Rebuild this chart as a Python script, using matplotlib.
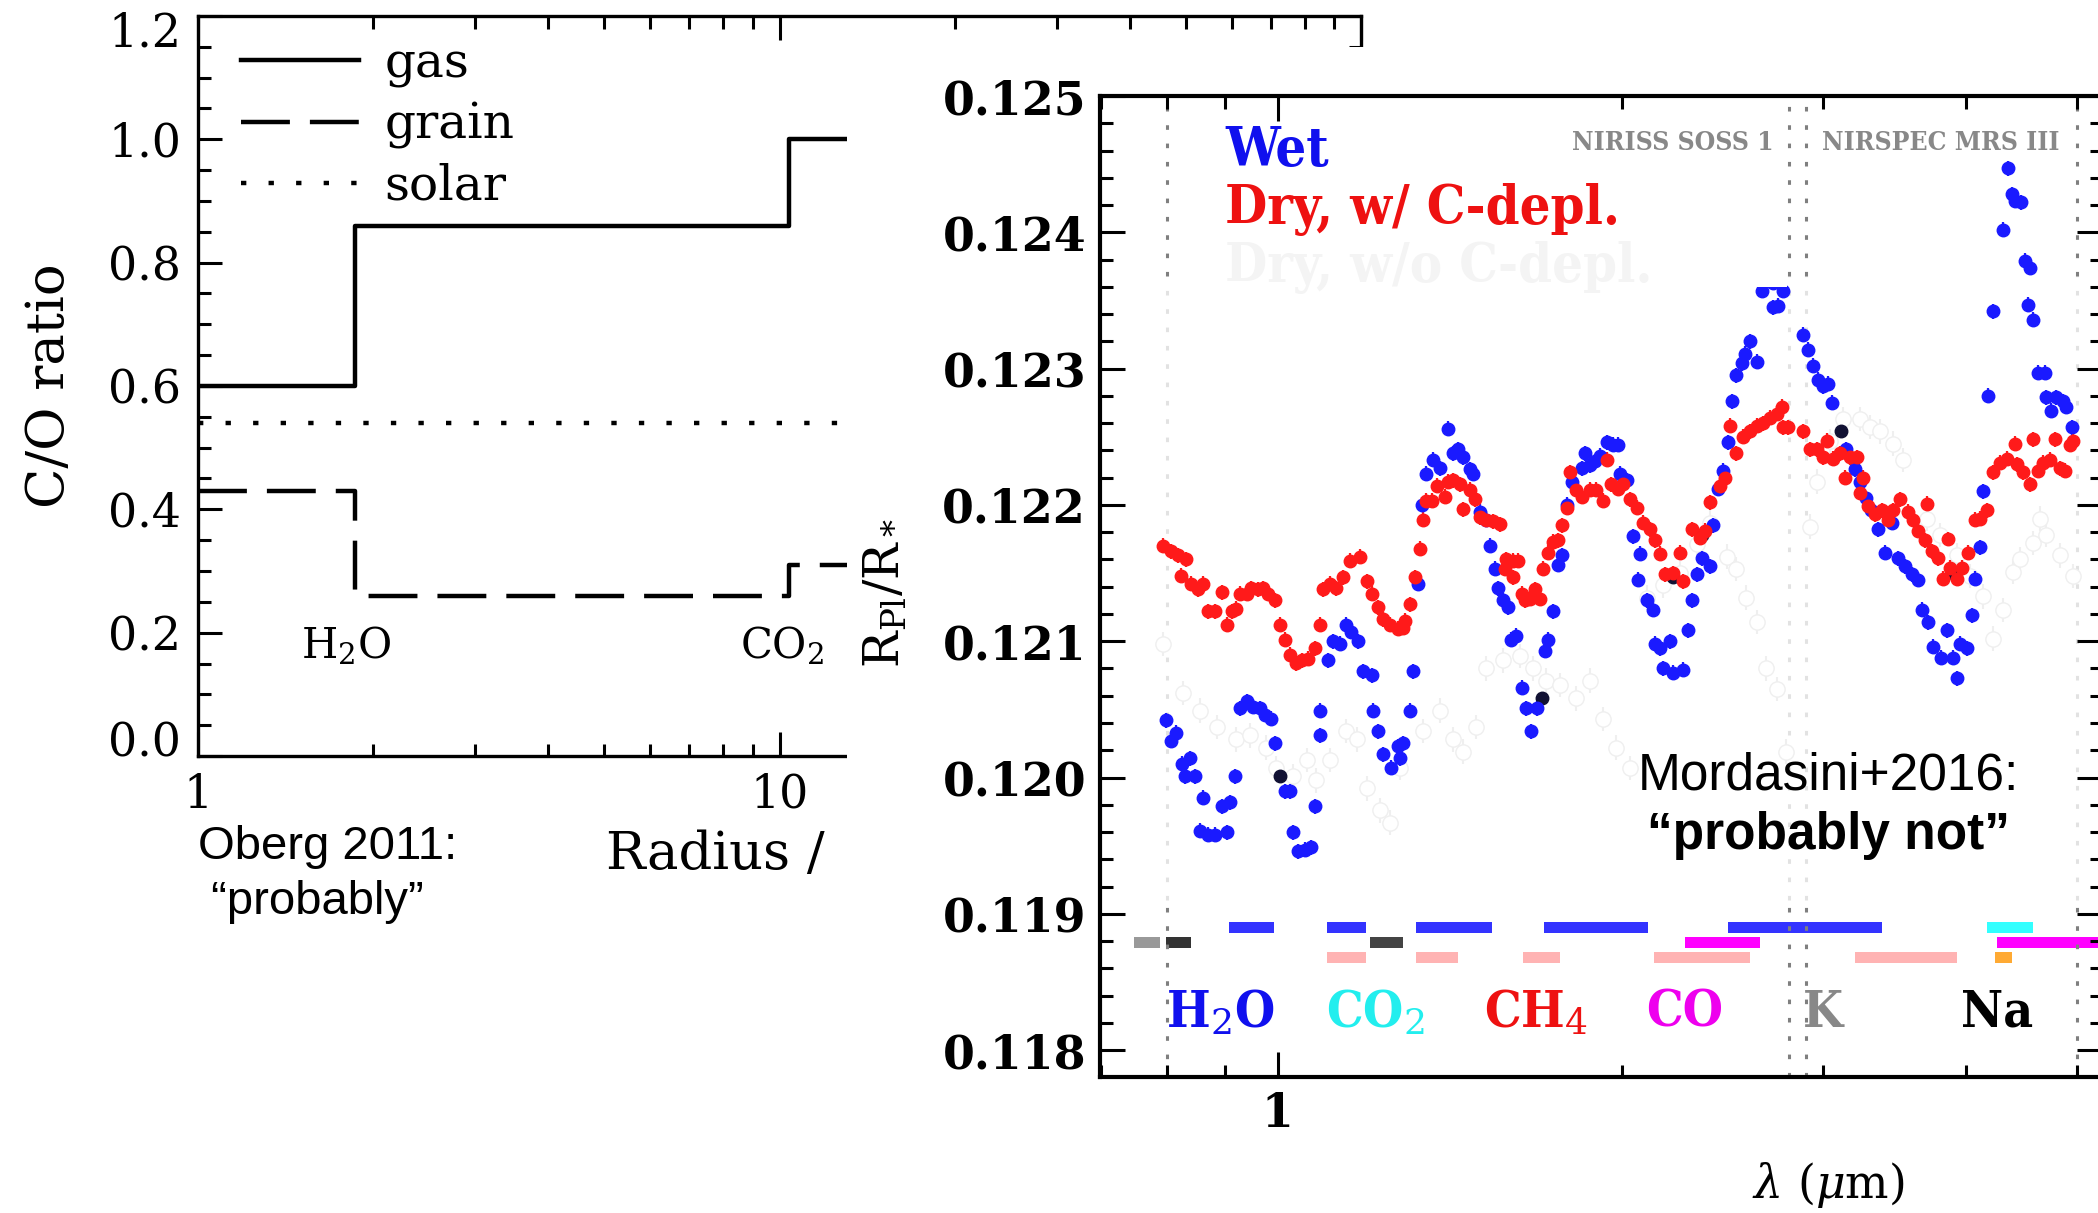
import numpy as np
import matplotlib
matplotlib.use('Agg')
import matplotlib.pyplot as plt
from matplotlib.ticker import (FixedLocator, FixedFormatter, LogLocator, NullFormatter,
                               MultipleLocator, FormatStrFormatter)
from matplotlib.transforms import ScaledTranslation

plt.rcParams['font.family'] = 'DejaVu Serif'
plt.rcParams['mathtext.fontset'] = 'dejavuserif'

# ---------------- left panel: Oberg 2011 C/O ratio ----------------
radius_edges = [1, 1.86, 10.37, 100]
co_gas = [0.60, 0.86, 1.00]
co_grain = [0.43, 0.26, 0.31]
co_solar = 0.54
snow_labels = ['H$_2$O', 'CO$_2$']
snow_x = [1.80, 10.1]
snow_y = 0.178

# ---------------- right panel: transmission spectra (Mordasini+2016) ----------------
lam_wet = [0.799, 0.807, 0.815, 0.824, 0.829, 0.838, 0.846, 0.855, 0.860, 0.869, 0.881, 0.893,
           0.902, 0.908, 0.917, 0.927, 0.939, 0.951, 0.964, 0.974, 0.987, 0.994, 1.014, 1.024,
           1.031, 1.042, 1.056, 1.070, 1.077, 1.088, 1.088, 1.107, 1.118, 1.133, 1.148, 1.160,
           1.176, 1.188, 1.208, 1.212, 1.224, 1.236, 1.257, 1.274, 1.279, 1.287, 1.305, 1.313,
           1.327, 1.336, 1.349, 1.367, 1.386, 1.409, 1.423, 1.438, 1.453, 1.472, 1.482, 1.502,
           1.522, 1.533, 1.548, 1.559, 1.575, 1.590, 1.601, 1.617, 1.634, 1.650, 1.667, 1.684,
           1.712, 1.724, 1.741, 1.759, 1.771, 1.789, 1.807, 1.844, 1.856, 1.875, 1.894, 1.913,
           1.939, 1.965, 1.985, 1.992, 2.019, 2.046, 2.067, 2.074, 2.102, 2.130, 2.137, 2.159,
           2.174, 2.203, 2.218, 2.263, 2.286, 2.301, 2.325, 2.348, 2.388, 2.404, 2.428, 2.453,
           2.477, 2.494, 2.519, 2.545, 2.562, 2.588, 2.623, 2.650, 2.712, 2.712, 2.740, 2.768,
           2.882, 2.911, 2.940, 2.970, 3.000, 3.030, 3.051, 3.144, 3.197, 3.230, 3.273, 3.306,
           3.351, 3.397, 3.443, 3.489, 3.537, 3.584, 3.633, 3.657, 3.707, 3.744, 3.807, 3.846,
           3.898, 3.925, 3.951, 4.004, 4.045, 4.072, 4.114, 4.141, 4.183, 4.225, 4.311, 4.355,
           4.384, 4.413, 4.472, 4.502, 4.533, 4.548, 4.579, 4.625, 4.688, 4.703, 4.751, 4.799,
           4.864, 4.897, 4.947]
rp_wet = [0.12042, 0.12027, 0.12033, 0.12010, 0.12001, 0.12014, 0.12001, 0.11961, 0.11985, 0.11958,
          0.11958, 0.11979, 0.11960, 0.11982, 0.12001, 0.12051, 0.12056, 0.12052, 0.12051, 0.12046,
          0.12043, 0.12025, 0.11990, 0.11990, 0.11960, 0.11946, 0.11947, 0.11949, 0.11979, 0.12031,
          0.12049, 0.12086, 0.12100, 0.12098, 0.12112, 0.12107, 0.12100, 0.12078, 0.12075, 0.12049,
          0.12034, 0.12017, 0.12007, 0.12023, 0.12014, 0.12025, 0.12049, 0.12078, 0.12142, 0.12200,
          0.12223, 0.12233, 0.12227, 0.12256, 0.12238, 0.12241, 0.12235, 0.12226, 0.12223, 0.12195,
          0.12189, 0.12170, 0.12153, 0.12139, 0.12130, 0.12125, 0.12101, 0.12104, 0.12066, 0.12051,
          0.12034, 0.12051, 0.12093, 0.12101, 0.12122, 0.12156, 0.12163, 0.12200, 0.12217, 0.12227,
          0.12238, 0.12229, 0.12232, 0.12236, 0.12246, 0.12244, 0.12244, 0.12223, 0.12218, 0.12177,
          0.12145, 0.12164, 0.12130, 0.12123, 0.12098, 0.12095, 0.12080, 0.12100, 0.12077, 0.12079,
          0.12108, 0.12130, 0.12149, 0.12161, 0.12155, 0.12185, 0.12212, 0.12225, 0.12246, 0.12276,
          0.12295, 0.12304, 0.12311, 0.12320, 0.12305, 0.12357, 0.12345, 0.12363, 0.12346, 0.12357,
          0.12325, 0.12314, 0.12302, 0.12292, 0.12287, 0.12289, 0.12275, 0.12241, 0.12226, 0.12217,
          0.12205, 0.12196, 0.12182, 0.12165, 0.12187, 0.12161, 0.12155, 0.12149, 0.12145, 0.12123,
          0.12114, 0.12096, 0.12088, 0.12108, 0.12088, 0.12073, 0.12098, 0.12095, 0.12119, 0.12146,
          0.12169, 0.12210, 0.12280, 0.12342, 0.12402, 0.12447, 0.12428, 0.12423, 0.12422, 0.12379,
          0.12347, 0.12374, 0.12336, 0.12297, 0.12297, 0.12279, 0.12269, 0.12279, 0.12276, 0.12272,
          0.12257]

lam_dry = [0.794, 0.807, 0.818, 0.823, 0.832, 0.840, 0.852, 0.860, 0.869, 0.881, 0.893, 0.902,
           0.911, 0.920, 0.927, 0.939, 0.948, 0.961, 0.971, 0.981, 0.994, 1.004, 1.014, 1.024,
           1.038, 1.049, 1.063, 1.077, 1.088, 1.096, 1.110, 1.125, 1.141, 1.156, 1.180, 1.196,
           1.208, 1.224, 1.236, 1.253, 1.274, 1.287, 1.291, 1.305, 1.318, 1.331, 1.340, 1.349,
           1.363, 1.377, 1.400, 1.409, 1.423, 1.443, 1.453, 1.472, 1.487, 1.502, 1.522, 1.543,
           1.564, 1.580, 1.585, 1.607, 1.607, 1.623, 1.634, 1.645, 1.661, 1.678, 1.695, 1.707,
           1.724, 1.741, 1.759, 1.771, 1.789, 1.801, 1.825, 1.844, 1.875, 1.900, 1.926, 1.939,
           1.958, 1.985, 2.005, 2.032, 2.060, 2.088, 2.116, 2.137, 2.159, 2.181, 2.218, 2.248,
           2.263, 2.301, 2.340, 2.364, 2.388, 2.436, 2.461, 2.486, 2.519, 2.553, 2.588, 2.623,
           2.658, 2.694, 2.731, 2.759, 2.768, 2.796, 2.882, 2.921, 2.960, 3.000, 3.020, 3.061,
           3.102, 3.133, 3.165, 3.208, 3.230, 3.251, 3.284, 3.329, 3.374, 3.420, 3.454, 3.501,
           3.560, 3.596, 3.633, 3.682, 3.694, 3.732, 3.782, 3.820, 3.859, 3.872, 3.925, 3.964,
           4.018, 4.072, 4.114, 4.169, 4.225, 4.282, 4.340, 4.413, 4.428, 4.487, 4.548, 4.579,
           4.625, 4.672, 4.735, 4.783, 4.831, 4.880, 4.930, 4.963]
rp_dry = [0.12170, 0.12166, 0.12163, 0.12148, 0.12160, 0.12142, 0.12138, 0.12142, 0.12122, 0.12122,
          0.12136, 0.12112, 0.12122, 0.12124, 0.12135, 0.12135, 0.12139, 0.12138, 0.12139, 0.12135,
          0.12130, 0.12112, 0.12101, 0.12090, 0.12084, 0.12086, 0.12087, 0.12095, 0.12112, 0.12138,
          0.12142, 0.12139, 0.12147, 0.12159, 0.12162, 0.12144, 0.12135, 0.12125, 0.12116, 0.12112,
          0.12109, 0.12110, 0.12115, 0.12127, 0.12147, 0.12168, 0.12189, 0.12203, 0.12203, 0.12214,
          0.12206, 0.12217, 0.12218, 0.12215, 0.12197, 0.12211, 0.12204, 0.12191, 0.12189, 0.12188,
          0.12186, 0.12153, 0.12160, 0.12159, 0.12147, 0.12159, 0.12135, 0.12130, 0.12131, 0.12138,
          0.12131, 0.12153, 0.12165, 0.12173, 0.12174, 0.12185, 0.12198, 0.12224, 0.12211, 0.12206,
          0.12211, 0.12211, 0.12203, 0.12233, 0.12215, 0.12212, 0.12215, 0.12204, 0.12198, 0.12187,
          0.12182, 0.12174, 0.12164, 0.12149, 0.12150, 0.12165, 0.12144, 0.12182, 0.12176, 0.12181,
          0.12202, 0.12214, 0.12220, 0.12258, 0.12238, 0.12250, 0.12254, 0.12258, 0.12260, 0.12264,
          0.12267, 0.12272, 0.12257, 0.12257, 0.12254, 0.12241, 0.12241, 0.12235, 0.12247, 0.12234,
          0.12238, 0.12220, 0.12235, 0.12235, 0.12209, 0.12220, 0.12199, 0.12193, 0.12196, 0.12189,
          0.12196, 0.12204, 0.12195, 0.12189, 0.12181, 0.12174, 0.12201, 0.12166, 0.12161, 0.12146,
          0.12175, 0.12154, 0.12146, 0.12154, 0.12165, 0.12189, 0.12190, 0.12196, 0.12224, 0.12231,
          0.12234, 0.12245, 0.12230, 0.12224, 0.12215, 0.12248, 0.12225, 0.12231, 0.12233, 0.12248,
          0.12227, 0.12225, 0.12244, 0.12247]

# points where the hidden dry/no-depletion curve overlaps (dark blobs)
lam_dark = [1.004, 1.701, 2.218, 2.348, 3.112, 3.900]
rp_dark = [0.12001, 0.12058, 0.12147, 0.12178, 0.12254, 0.12150]

# "Dry, w/o C-depl." model, faded out in the figure
lam_ghost = [0.794, 0.826, 0.855, 0.884, 0.920, 0.945, 0.977, 0.997, 1.031, 1.060, 1.081, 1.110,
             1.148, 1.172, 1.196, 1.228, 1.253, 1.279, 1.340, 1.386, 1.423, 1.453, 1.492, 1.522,
             1.575, 1.628, 1.673, 1.718, 1.765, 1.825, 1.875, 1.926, 1.978, 2.032, 2.102, 2.174,
             2.248, 2.325, 2.388, 2.469, 2.519, 2.570, 2.623, 2.676, 2.731, 2.786, 2.921, 2.960,
             3.041, 3.123, 3.230, 3.295, 3.363, 3.454, 3.525, 3.694, 3.795, 3.925, 4.031, 4.141,
             4.225, 4.311, 4.398, 4.458, 4.579, 4.641, 4.703, 4.831, 4.963]
rp_ghost = [0.12098, 0.12062, 0.12049, 0.12037, 0.12028, 0.12031, 0.12022, 0.12007, 0.12001, 0.12013,
            0.11998, 0.12013, 0.12034, 0.12028, 0.11992, 0.11976, 0.11967, 0.12007, 0.12034, 0.12049,
            0.12028, 0.12019, 0.12037, 0.12080, 0.12086, 0.12089, 0.12080, 0.12071, 0.12068, 0.12058,
            0.12071, 0.12043, 0.12022, 0.12007, 0.12132, 0.12141, 0.12150, 0.12171, 0.12187, 0.12162,
            0.12153, 0.12132, 0.12114, 0.12080, 0.12065, 0.12019, 0.12184, 0.12217, 0.12247, 0.12263,
            0.12263, 0.12257, 0.12254, 0.12245, 0.12233, 0.12190, 0.12178, 0.12163, 0.12148, 0.12133,
            0.12102, 0.12123, 0.12151, 0.12160, 0.12172, 0.12190, 0.12178, 0.12163, 0.12148]

# instrument edges (dotted lines)
inst_edges = [0.8, 2.8, 2.9, 5.0]
inst_names = ['NIRISS SOSS 1', 'NIRSPEC MRS III']

# molecular band indicators: start, end, row level, colour
band_start = [0.906, 1.104, 1.322, 1.708, 2.474, 4.169,
              0.748, 0.798, 1.205, 2.273, 4.261,
              1.104, 1.322, 1.639, 2.132, 3.197, 4.240]
band_end = [0.992, 1.194, 1.539, 2.110, 3.375, 4.574,
            0.789, 0.839, 1.288, 2.641, 5.30,
            1.194, 1.438, 1.764, 2.588, 3.929, 4.387]
band_level = [0.11890] * 6 + [0.11879] * 5 + [0.11868] * 6
band_color = ['#3333ff'] * 5 + ['#33ffff'] + ['#999999', '#333333', '#444444', '#ff00ff', '#ff00ff'] \
    + ['#ffb3b3'] * 5 + ['#ffaa33']
mol_labels = ['H$_2$O', 'CO$_2$', 'CH$_4$', 'CO', 'K', 'Na']
mol_colors = ['#1010ee', '#22eeee', '#ee1111', '#ee00ee', '#888888', '#000000']
mol_xpos = [0.120, 0.275, 0.435, 0.583, 0.721, 0.895]

W, H = 2098, 1213


def box(x0, y0, x1, y1):
    return [x0 / W, 1 - y1 / H, (x1 - x0) / W, (y1 - y0) / H]


fig = plt.figure(figsize=(W / 100, H / 100), dpi=100)

# ---------- left axes ----------
ax1 = fig.add_axes(box(198, 16, 1361, 756))
ax1.set_xscale('log')
gas_line, = ax1.step(radius_edges, co_gas + co_gas[-1:], where='post', color='k', lw=3.2, label='gas')
grain_line, = ax1.step(radius_edges, co_grain + co_grain[-1:], where='post', color='k', lw=3.2,
                       ls=(0, (11, 4.5)), label='grain')
solar_line = ax1.axhline(co_solar, color='k', lw=3.2, ls=(0, (1.2, 5)), label='solar')
for lab, xx in zip(snow_labels, snow_x):
    ax1.text(xx, snow_y, lab, ha='center', va='center', fontsize=30)
ax1.set_xlim(1, 100)
ax1.set_ylim(0, 1.2)
ax1.xaxis.set_major_locator(FixedLocator([1, 10, 100]))
ax1.xaxis.set_major_formatter(FixedFormatter(['1', '10', '']))
ax1.xaxis.set_minor_locator(LogLocator(base=10, subs=np.arange(2, 10), numticks=20))
ax1.xaxis.set_minor_formatter(NullFormatter())
ax1.yaxis.set_major_locator(MultipleLocator(0.2))
ax1.yaxis.set_minor_locator(MultipleLocator(0.05))
ax1.yaxis.set_major_formatter(FormatStrFormatter('%.1f'))
ax1.tick_params(which='both', direction='in', top=True, right=True, labelsize=33, width=2.2, pad=12)
ax1.tick_params(which='major', length=17)
ax1.tick_params(which='minor', length=9)
for s in ax1.spines.values():
    s.set_linewidth(2.4)
# end labels sit a little inside the axis range, as in the original
for lbl in ax1.get_yticklabels():
    if lbl.get_text() == '1.2':
        lbl.set_transform(lbl.get_transform() + ScaledTranslation(0, -0.13, fig.dpi_scale_trans))
    elif lbl.get_text() == '0.0':
        lbl.set_transform(lbl.get_transform() + ScaledTranslation(0, 0.17, fig.dpi_scale_trans))
ax1.set_ylabel('C/O ratio', fontsize=38)
ax1.yaxis.set_label_coords(-0.106, 0.5)
ax1.set_xlabel('Radius /', fontsize=38)
ax1.xaxis.set_label_coords(0.445, -0.098)
ax1.legend(handles=[gas_line, grain_line, solar_line], loc='upper left', bbox_to_anchor=(0.037, 0.967),
           frameon=False, fontsize=35, handlelength=2.42, handletextpad=0.53, labelspacing=0.28,
           borderpad=0, borderaxespad=0)

fig.text(198 / W, 1 - 847 / H, 'Oberg 2011:', family='Liberation Sans', fontsize=34, va='center')
fig.text(198 / W, 1 - 902 / H, ' \u201cprobably\u201d', family='Liberation Sans', fontsize=34, va='center')

# ---------- white backdrop of the pasted right panel ----------
bg = fig.add_axes(box(847, 47, W, H), zorder=2)
bg.set_facecolor('white')
bg.set_xticks([])
bg.set_yticks([])
for s in bg.spines.values():
    s.set_visible(False)

# ---------- right axes ----------
ax2 = fig.add_axes(box(1100, 96, 2102, 1077), zorder=3)
ax2.set_axisbelow(False)
ax2.set_xscale('log')
ax2.set_xlim(0.699, 5.26)
ax2.set_ylim(0.117803, 0.125)

band_top = 0.12368
band_bot = 0.1191
ax2.vlines(inst_edges, band_bot, band_top, color='#e2e2e2', lw=2.2, ls=(0, (1.5, 4.5)), zorder=1.1)
ax2.vlines(inst_edges, band_top, 0.125, color='#7f7f7f', lw=2.2, ls=(0, (1.5, 4.5)), zorder=2.45)
ax2.vlines(inst_edges, 0.117803, band_bot, color='#7f7f7f', lw=2.2, ls=(0, (1.5, 4.5)), zorder=2.45)

ax2.errorbar(lam_ghost, rp_ghost, yerr=9e-5, fmt='o', ms=11, mfc='white', mec='#efefef',
             ecolor='#efefef', elinewidth=1.5, capsize=0, zorder=1.2)
ax2.errorbar(lam_wet, rp_wet, yerr=5.5e-5, fmt='o', ms=9, color='#1a1aff', mec='#1a1aff',
             elinewidth=1.6, capsize=0, zorder=2.2)
ax2.errorbar(lam_dry, rp_dry, yerr=5.5e-5, fmt='o', ms=9, color='#ff1a1a', mec='#ff1a1a',
             elinewidth=1.6, capsize=0, zorder=2.25)
ax2.plot(lam_dark, rp_dark, 'o', ms=9, color='#111133', zorder=2.3)
ax2.fill_between([0.699, 2.79], 0.12360, 0.125, color='white', lw=0, zorder=2.4)

ax2.barh(band_level, np.array(band_end) - np.array(band_start), left=band_start, height=0.000085,
         color=band_color, zorder=2.2)

cond = dict(family='DejaVu Serif', weight='bold', stretch='condensed')
for lab, c, xx in zip(mol_labels, mol_colors, mol_xpos):
    ax2.text(xx, 0.065, lab, color=c, fontsize=37, ha='center', va='center', transform=ax2.transAxes,
             zorder=6, **cond)

ax2.text(0.125, 0.944, 'Wet', color='#1010ee', fontsize=39, va='center', transform=ax2.transAxes,
         zorder=6, **cond)
ax2.text(0.125, 0.884, 'Dry, w/ C-depl.', color='#ee1111', fontsize=39, va='center', transform=ax2.transAxes,
         zorder=6, **cond)
ax2.text(0.125, 0.825, 'Dry, w/o C-depl.', color='#f4f4f4', fontsize=39, va='center', transform=ax2.transAxes,
         zorder=6, **cond)
ax2.text(0.672, 0.953, inst_names[0], color='#888888', fontsize=19, ha='right', va='center',
         transform=ax2.transAxes, zorder=6, **cond)
ax2.text(0.721, 0.953, inst_names[1], color='#888888', fontsize=19, ha='left', va='center',
         transform=ax2.transAxes, zorder=6, **cond)

ax2.text(0.727, 0.307, 'Mordasini+2016:', family='Liberation Sans', fontsize=37, ha='center', va='center',
         transform=ax2.transAxes, zorder=6)
ax2.text(0.727, 0.246, '\u201cprobably not\u201d', family='Liberation Sans', fontsize=37, fontweight='bold',
         ha='center', va='center', transform=ax2.transAxes, zorder=6)

ax2.xaxis.set_major_locator(FixedLocator([1]))
ax2.xaxis.set_major_formatter(FixedFormatter(['1']))
ax2.xaxis.set_minor_locator(LogLocator(base=10, subs=np.arange(2, 10), numticks=20))
ax2.xaxis.set_minor_formatter(NullFormatter())
ax2.yaxis.set_major_locator(MultipleLocator(0.001))
ax2.yaxis.set_minor_locator(MultipleLocator(0.0002))
ax2.yaxis.set_major_formatter(FormatStrFormatter('%.3f'))
ax2.tick_params(which='both', direction='in', top=True, right=True, width=2.2, labelsize=33, pad=10)
ax2.tick_params(which='major', length=18)
ax2.tick_params(which='minor', length=9)
for lbl in ax2.get_xticklabels() + ax2.get_yticklabels():
    lbl.set_fontweight('bold')
for s in ax2.spines.values():
    s.set_linewidth(3)
ax2.set_ylabel(r'R$_{\rm Pl}$/R$_*$', fontsize=35)
ax2.yaxis.set_label_coords(-0.19, 0.494)
ax2.set_xlabel(r'$\lambda$ ($\mu$m)', fontsize=33)
ax2.xaxis.set_label_coords(0.727, -0.085)

fig.savefig('out.png', dpi=100)
